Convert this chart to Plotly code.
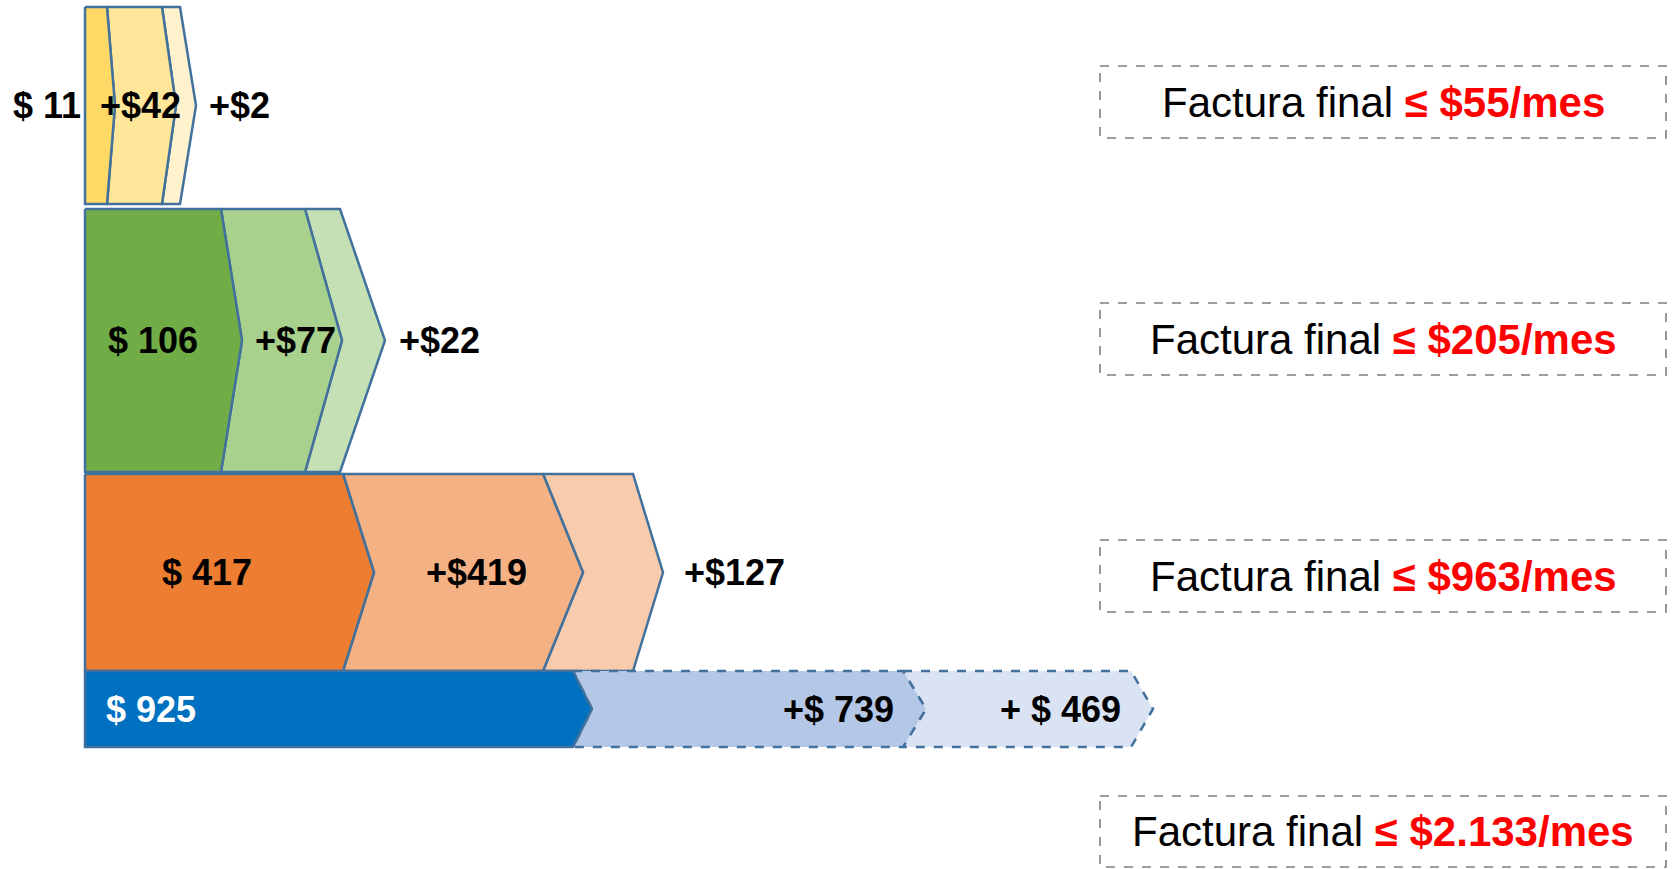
"""
Factura mensual por rango: cargo base + dos incrementos, dibujado como flechas
(chevrons) apiladas, con el total de cada rango en un recuadro a la derecha.
"""
import plotly.graph_objects as go

# ── Data ──────────────────────────────────────────────────────────────────────
base_vals = [11, 106, 417, 925]
add1_vals = [42, 77, 419, 739]
add2_vals = [2, 22, 127, 469]

# label templates per row (the last row is spaced differently in the source)
label_fmts = [
    ["$ {}", "+${}", "+${}"],
    ["$ {}", "+${}", "+${}"],
    ["$ {}", "+${}", "+${}"],
    ["$ {}", "+$ {}", "+ $ {}"],
]

# ── Drawing geometry (axis units = pixels of the 1678x869 canvas) ────────────
W, H = 1678, 869
X0 = 85
ROW_TOP = [7, 209, 474, 671]
ROW_BOT = [204, 472, 671, 747]
SEG_CORNER = [[107, 162, 180], [221, 305, 340], [343, 543, 633], [573, 903, 1131]]
SEG_TIP = [[115, 176, 196], [242, 342, 385], [374, 583, 663], [592, 926, 1153]]
LABEL_X = [[47, 140, 239], [153, 295, 439], [207, 476, 734], [151, 838, 1060]]

BOX_X = (1100, 1666)
BOX_Y = [(66, 138), (303, 375), (540, 612), (796, 867)]

# ── Styles ────────────────────────────────────────────────────────────────────
FILLS = [
    ["#FFD966", "#FFE699", "#FFF2CC"],
    ["#70AD47", "#A9D18E", "#C5E0B4"],
    ["#ED7D31", "#F4B183", "#F8CBAD"],
    ["#0070C0", "#B4C7E7", "#DAE3F3"],
]
DASHED = [[False] * 3, [False] * 3, [False] * 3, [False, True, True]]
EDGE = "#41719C"
FONT = "Arial, Liberation Sans, sans-serif"


def _chevron(row, seg):
    top, bot = ROW_TOP[row], ROW_BOT[row]
    mid = (top + bot) / 2
    if seg == 0:
        lx_c, lx_t = X0, X0
    else:
        lx_c, lx_t = SEG_CORNER[row][seg - 1], SEG_TIP[row][seg - 1]
    rc, rt = SEG_CORNER[row][seg], SEG_TIP[row][seg]
    xs = [lx_c, rc, rt, rc, lx_c, lx_t, lx_c]
    ys = [top, top, mid, bot, bot, mid, top]
    return xs, ys


fig = go.Figure()

rows = list(zip(base_vals, add1_vals, add2_vals))

for r, vals in enumerate(rows):
    # draw back to front so the first segment's border sits on top
    for s in (2, 1, 0):
        xs, ys = _chevron(r, s)
        fig.add_trace(go.Scatter(
            x=xs, y=ys, mode="lines", fill="toself",
            fillcolor=FILLS[r][s],
            line=dict(color=EDGE, width=2.5, dash="dash" if DASHED[r][s] else "solid"),
            hoverinfo="skip", showlegend=False,
        ))

annotations = []
for r, vals in enumerate(rows):
    mid = (ROW_TOP[r] + ROW_BOT[r]) / 2
    for s, v in enumerate(vals):
        colour = "white" if (r == 3 and s == 0) else "black"
        annotations.append(dict(
            x=LABEL_X[r][s], y=mid, xref="x", yref="y",
            text=label_fmts[r][s].format(v), showarrow=False,
            font=dict(family=FONT, size=36, color=colour, weight="bold"),
            xanchor="center", yanchor="middle",
        ))

# totals boxes
shapes = []
for r, vals in enumerate(rows):
    total = f"{sum(vals):,}".replace(",", ".")
    y0, y1 = BOX_Y[r]
    shapes.append(dict(
        type="rect", xref="x", yref="y",
        x0=BOX_X[0], x1=BOX_X[1], y0=y0, y1=y1,
        line=dict(color="#7F7F7F", width=1.6, dash="dash"),
        fillcolor="rgba(0,0,0,0)",
    ))
    annotations.append(dict(
        x=sum(BOX_X) / 2, y=(y0 + y1) / 2, xref="x", yref="y",
        text=f"Factura final <span style='color:#FF0000'><b>≤ ${total}/mes</b></span>",
        showarrow=False,
        font=dict(family=FONT, size=42, color="black"),
        xanchor="center", yanchor="middle",
    ))

fig.update_layout(
    width=W, height=H,
    margin=dict(l=0, r=0, t=0, b=0),
    plot_bgcolor="white", paper_bgcolor="white",
    xaxis=dict(range=[0, W], visible=False, fixedrange=True),
    yaxis=dict(range=[H, 0], visible=False, fixedrange=True),
    annotations=annotations,
    shapes=shapes,
    showlegend=False,
    hovermode=False,
)

# page body has a default 8px margin; drop it so the canvas fills the window
fig.write_html(
    "out.html",
    config={"displayModeBar": False},
    post_script="document.body.style.margin='0';document.body.style.overflow='hidden';",
)
